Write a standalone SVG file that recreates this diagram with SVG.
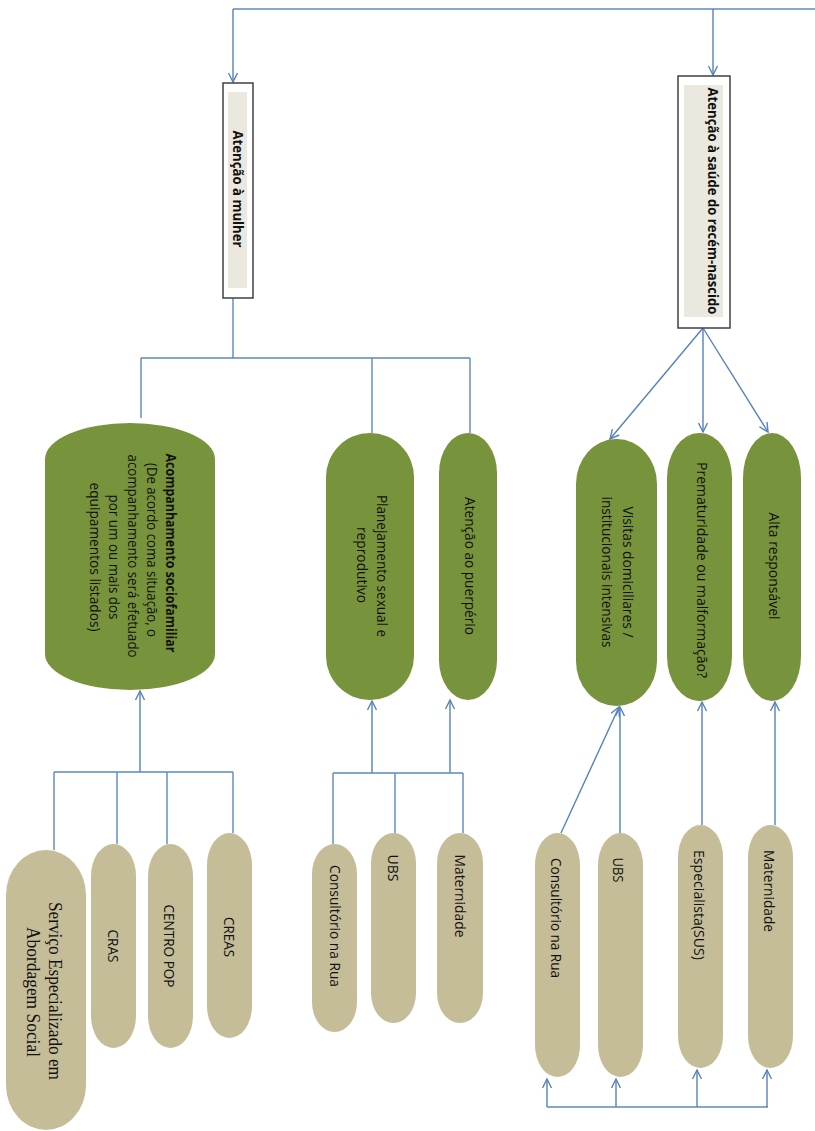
<svg xmlns="http://www.w3.org/2000/svg" width="815" height="1131" viewBox="0 0 815 1131">
<defs>
<marker id="arr" markerUnits="userSpaceOnUse" markerWidth="12" markerHeight="12" viewBox="0 0 12 12" refX="10" refY="6" orient="auto">
<path d="M1,1.5 L10,6 L1,10.5" fill="none" stroke="#5582BA" stroke-width="1.4"/>
</marker>
<style>
.c{fill:none;stroke:#5C88BE;stroke-width:1.4}
.ca{fill:none;stroke:#5582BA;stroke-width:1.4;marker-end:url(#arr)}
.g{fill:#77933C}
.t{fill:#C4BD97}
.box{fill:#fff;stroke:#404040;stroke-width:1.5}
.inner{fill:#EBE9DF}
text{font-family:"Open Sans","Noto Sans",sans-serif;font-size:14px;fill:#111;text-anchor:middle;dominant-baseline:central}
.b{font-weight:bold}
.s{font-family:"Liberation Serif",serif;font-size:18px}
</style>
</defs>
<rect width="815" height="1131" fill="#fff"/>
<g id="connectors">
<path class="c" d="M815,9 H233"/>
<path class="ca" d="M233,9 V82"/>
<path class="ca" d="M713,9 V75"/>
<path class="c" d="M233,298 V358 M141,358 H470 M141,358 V418 M372,358 V433 M470,358 V433"/>
<path class="ca" d="M703,328 L610,439"/>
<path class="ca" d="M703,328 L703,432"/>
<path class="ca" d="M703,328 L768,432"/>
<path class="ca" d="M140,772 V691"/>
<path class="c" d="M54,772 H233 M54,772 V850 M117,772 V844 M167,772 V844 M233,772 V833"/>
<path class="ca" d="M372,773 V701"/>
<path class="ca" d="M450,773 V700"/>
<path class="c" d="M333,773 H463 M333,773 V844 M395,773 V833 M463,773 V833"/>
<path class="ca" d="M561,833 L619,707"/>
<path class="ca" d="M620,833 V707"/>
<path class="ca" d="M702,825 V702"/>
<path class="ca" d="M775,825 V702"/>
<path class="c" d="M547,1107 H768"/>
<path class="ca" d="M547,1107 V1079"/>
<path class="ca" d="M616,1107 V1079"/>
<path class="ca" d="M697,1107 V1070"/>
<path class="ca" d="M767,1107 V1070"/>
</g>
<g id="mulher">
<rect class="box" x="223" y="83" width="30" height="215"/>
<rect class="inner" x="228" y="92" width="19" height="196"/>
<text class="b" transform="translate(238,189) rotate(90)" textLength="117" lengthAdjust="spacingAndGlyphs">Atenção à mulher</text>
</g>
<g id="recem">
<rect class="box" x="678" y="76" width="52" height="252"/>
<rect class="inner" x="684" y="85" width="39" height="232"/>
<text class="b" transform="translate(713,201) rotate(90)" textLength="227" lengthAdjust="spacingAndGlyphs">Atenção à saúde do recém-nascido</text>
</g>
<g id="acompanhamento">
<rect class="g" x="45" y="423" width="170" height="267" rx="85" ry="36"/>
<text class="b" transform="translate(171,553) rotate(90)" textLength="199" lengthAdjust="spacingAndGlyphs">Acompanhamento sociofamiliar</text>
<text transform="translate(152,550) rotate(90)" textLength="174" lengthAdjust="spacingAndGlyphs">(De acordo coma situação, o</text>
<text transform="translate(133,556) rotate(90)" textLength="203" lengthAdjust="spacingAndGlyphs">acompanhamento será efetuado</text>
<text transform="translate(114,557) rotate(90)" textLength="125" lengthAdjust="spacingAndGlyphs">por um ou mais dos</text>
<text transform="translate(95,557) rotate(90)" textLength="149" lengthAdjust="spacingAndGlyphs">equipamentos listados)</text>
</g>
<g id="planejamento">
<rect class="g" x="326" y="433" width="88" height="267" rx="44" ry="44"/>
<text transform="translate(382,566) rotate(90)" textLength="142" lengthAdjust="spacingAndGlyphs">Planejamento sexual e</text>
<text transform="translate(362,565) rotate(90)" textLength="76" lengthAdjust="spacingAndGlyphs">reprodutivo</text>
</g>
<g id="puerperio">
<rect class="g" x="439" y="433" width="58" height="267" rx="29" ry="40"/>
<text transform="translate(470,566) rotate(90)" textLength="138" lengthAdjust="spacingAndGlyphs">Atenção ao puerpério</text>
</g>
<g id="visitas">
<rect class="g" x="576" y="439" width="81" height="267" rx="40" ry="45"/>
<text transform="translate(628,572) rotate(90)" textLength="131" lengthAdjust="spacingAndGlyphs">Visitas domiciliares /</text>
<text transform="translate(607,572) rotate(90)" textLength="151" lengthAdjust="spacingAndGlyphs">institucionais intensivas</text>
</g>
<g id="prematuridade">
<rect class="g" x="667" y="433" width="65" height="268" rx="32" ry="45"/>
<text transform="translate(702,570) rotate(90)" textLength="216" lengthAdjust="spacingAndGlyphs">Prematuridade ou malformação?</text>
</g>
<g id="alta">
<rect class="g" x="743" y="433" width="58" height="268" rx="29" ry="45"/>
<text transform="translate(774,566) rotate(90)" textLength="107" lengthAdjust="spacingAndGlyphs">Alta responsável</text>
</g>
<g id="servico">
<rect class="t" x="6" y="850" width="80" height="280" rx="40" ry="45"/>
<text class="s" transform="translate(55,991) rotate(90)" textLength="178" lengthAdjust="spacingAndGlyphs">Serviço Especializado em</text>
<text class="s" transform="translate(33,992) rotate(90)" textLength="130" lengthAdjust="spacingAndGlyphs">Abordagem Social</text>
</g>
<g id="cras">
<rect class="t" x="91" y="844" width="45" height="204" rx="22.5" ry="32"/>
<text transform="translate(113,946) rotate(90)" textLength="33" lengthAdjust="spacingAndGlyphs">CRAS</text>
</g>
<g id="centropop">
<rect class="t" x="148" y="844" width="45" height="204" rx="22.5" ry="32"/>
<text transform="translate(169,946) rotate(90)" textLength="83" lengthAdjust="spacingAndGlyphs">CENTRO POP</text>
</g>
<g id="creas">
<rect class="t" x="207" y="833" width="45" height="205" rx="22.5" ry="32"/>
<text transform="translate(229,937) rotate(90)" textLength="40" lengthAdjust="spacingAndGlyphs">CREAS</text>
</g>
<g id="consultorio1">
<rect class="t" x="312" y="844" width="45" height="188" rx="22.5" ry="30"/>
<text transform="translate(335,926) rotate(90)" textLength="122" lengthAdjust="spacingAndGlyphs">Consultório na Rua</text>
</g>
<g id="ubs1">
<rect class="t" x="371" y="833" width="45" height="190" rx="22.5" ry="30"/>
<text transform="translate(393,868) rotate(90)" textLength="27" lengthAdjust="spacingAndGlyphs">UBS</text>
</g>
<g id="maternidade1">
<rect class="t" x="437" y="833" width="46" height="190" rx="23" ry="30"/>
<text transform="translate(460,896) rotate(90)" textLength="83" lengthAdjust="spacingAndGlyphs">Maternidade</text>
</g>
<g id="consultorio2">
<rect class="t" x="535" y="833" width="45" height="244" rx="22.5" ry="32"/>
<text transform="translate(556,918) rotate(90)" textLength="120" lengthAdjust="spacingAndGlyphs">Consultório na Rua</text>
</g>
<g id="ubs2">
<rect class="t" x="598" y="833" width="45" height="244" rx="22.5" ry="32"/>
<text transform="translate(618,870) rotate(90)" textLength="25" lengthAdjust="spacingAndGlyphs">UBS</text>
</g>
<g id="especialista">
<rect class="t" x="678" y="825" width="45" height="243" rx="22.5" ry="32"/>
<text transform="translate(699,905) rotate(90)" textLength="110" lengthAdjust="spacingAndGlyphs">Especialista(SUS)</text>
</g>
<g id="maternidade2">
<rect class="t" x="748" y="825" width="45" height="243" rx="22.5" ry="32"/>
<text transform="translate(769,891) rotate(90)" textLength="82" lengthAdjust="spacingAndGlyphs">Maternidade</text>
</g>
</svg>
